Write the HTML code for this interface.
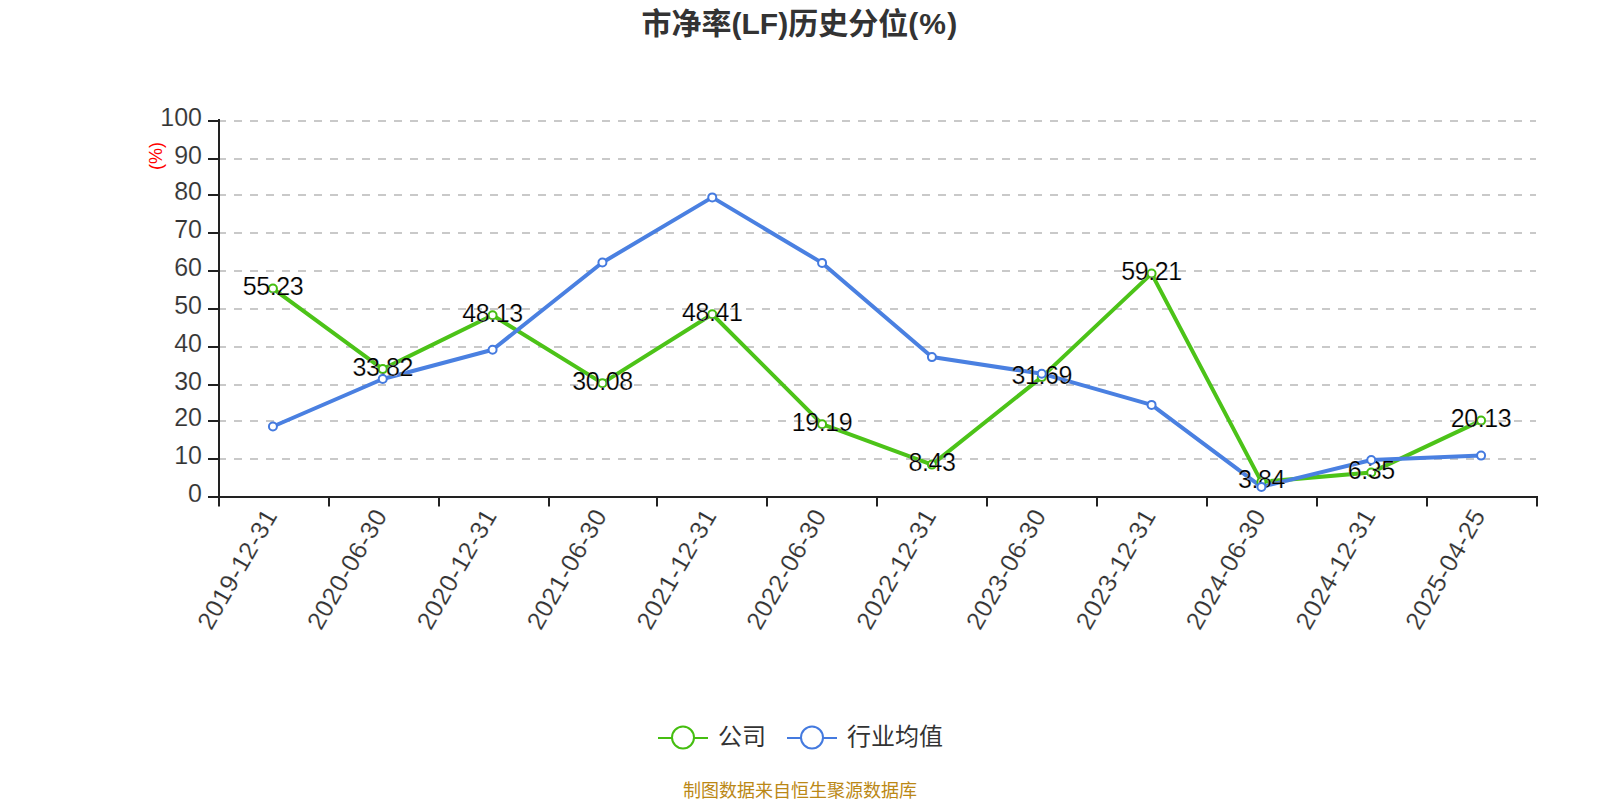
<!DOCTYPE html>
<html lang="zh-CN"><head><meta charset="utf-8"><title>市净率(LF)历史分位(%)</title>
<style>html,body{margin:0;padding:0;background:#fff;}body{width:1600px;height:800px;overflow:hidden;}svg{display:block;font-family:"Liberation Sans","Noto Sans CJK SC",sans-serif;}</style></head><body>
<svg width="1600" height="800" viewBox="0 0 1600 800">
<rect width="1600" height="800" fill="#fff"/>
<text x="641.5" y="33.5" font-size="30" font-weight="bold" fill="#333">市净率(LF)历史分位<tspan letter-spacing="1.2">(%)</tspan></text>
<g stroke="#c9c9c9" stroke-width="2" stroke-dasharray="8 8" fill="none">
<path d="M218 459 H1536"/>
<path d="M218 421 H1536"/>
<path d="M218 385 H1536"/>
<path d="M218 347 H1536"/>
<path d="M218 309 H1536"/>
<path d="M218 271 H1536"/>
<path d="M218 233 H1536"/>
<path d="M218 195 H1536"/>
<path d="M218 159 H1536"/>
<path d="M218 121 H1536"/>
</g>
<g stroke="#222" stroke-width="2" fill="none">
<path d="M219 119 V498"/>
<path d="M218 497 H1538"/>
<path d="M208 497 H219"/>
<path d="M208 459 H219"/>
<path d="M208 421 H219"/>
<path d="M208 385 H219"/>
<path d="M208 347 H219"/>
<path d="M208 309 H219"/>
<path d="M208 271 H219"/>
<path d="M208 233 H219"/>
<path d="M208 195 H219"/>
<path d="M208 159 H219"/>
<path d="M208 121 H219"/>
<path d="M219 497 V506.5"/>
<path d="M329 497 V506.5"/>
<path d="M439 497 V506.5"/>
<path d="M549 497 V506.5"/>
<path d="M657 497 V506.5"/>
<path d="M767 497 V506.5"/>
<path d="M877 497 V506.5"/>
<path d="M987 497 V506.5"/>
<path d="M1097 497 V506.5"/>
<path d="M1207 497 V506.5"/>
<path d="M1317 497 V506.5"/>
<path d="M1427 497 V506.5"/>
<path d="M1537 497 V506.5"/>
</g>
<g font-size="25" fill="#333" text-anchor="end" stroke="#fff" stroke-width="0.15">
<text x="202" y="502">0</text>
<text x="202" y="464">10</text>
<text x="202" y="426">20</text>
<text x="202" y="390">30</text>
<text x="202" y="352">40</text>
<text x="202" y="314">50</text>
<text x="202" y="276">60</text>
<text x="202" y="238">70</text>
<text x="202" y="200">80</text>
<text x="202" y="164">90</text>
<text x="202" y="126">100</text>
</g>
<text transform="translate(161.5 156) rotate(-90)" text-anchor="middle" font-size="18" fill="#f00">(%)</text>
<g font-size="25" fill="#333" text-anchor="end" letter-spacing="0.6" stroke="#fff" stroke-width="0.15">
<text transform="translate(271.22 511.3) rotate(-60)" y="8">2019-12-31</text>
<text transform="translate(381.05 511.3) rotate(-60)" y="8">2020-06-30</text>
<text transform="translate(490.88 511.3) rotate(-60)" y="8">2020-12-31</text>
<text transform="translate(600.72 511.3) rotate(-60)" y="8">2021-06-30</text>
<text transform="translate(710.55 511.3) rotate(-60)" y="8">2021-12-31</text>
<text transform="translate(820.38 511.3) rotate(-60)" y="8">2022-06-30</text>
<text transform="translate(930.22 511.3) rotate(-60)" y="8">2022-12-31</text>
<text transform="translate(1040.05 511.3) rotate(-60)" y="8">2023-06-30</text>
<text transform="translate(1149.88 511.3) rotate(-60)" y="8">2023-12-31</text>
<text transform="translate(1259.72 511.3) rotate(-60)" y="8">2024-06-30</text>
<text transform="translate(1369.55 511.3) rotate(-60)" y="8">2024-12-31</text>
<text transform="translate(1479.38 511.3) rotate(-60)" y="8">2025-04-25</text>
</g>
<polyline points="272.92,288.58 382.75,369.10 492.58,315.28 602.42,383.17 712.25,314.23 822.08,424.13 931.92,464.59 1041.75,377.11 1151.58,273.61 1261.42,481.86 1371.25,472.42 1481.08,420.59" fill="none" stroke="#4CC318" stroke-width="4" stroke-linejoin="bevel"/>
<polyline points="272.92,426.50 382.75,379.00 492.58,349.70 602.42,262.50 712.25,197.40 822.08,262.90 931.92,357.10 1041.75,373.70 1151.58,404.90 1261.42,486.90 1371.25,460.00 1481.08,455.60" fill="none" stroke="#4A80E1" stroke-width="4" stroke-linejoin="bevel"/>
<g font-size="25" fill="#000" text-anchor="middle" letter-spacing="-0.4" stroke-width="0.2">
<circle cx="272.92" cy="288.58" r="4" fill="#fff" stroke="#45BE10" stroke-width="2"/>
<text x="272.92" y="295.18" stroke="#fff">55.23</text>
<circle cx="382.75" cy="369.10" r="4" fill="#fff" stroke="#45BE10" stroke-width="2"/>
<text x="382.75" y="375.70" stroke="#fff">33.82</text>
<circle cx="492.58" cy="315.28" r="4" fill="#fff" stroke="#45BE10" stroke-width="2"/>
<text x="492.58" y="321.88" stroke="#fff">48.13</text>
<circle cx="602.42" cy="383.17" r="4" fill="#fff" stroke="#45BE10" stroke-width="2"/>
<text x="602.42" y="389.77" stroke="#fff">30.08</text>
<circle cx="712.25" cy="314.23" r="4" fill="#fff" stroke="#45BE10" stroke-width="2"/>
<text x="712.25" y="320.83" stroke="#fff">48.41</text>
<circle cx="822.08" cy="424.13" r="4" fill="#fff" stroke="#45BE10" stroke-width="2"/>
<text x="822.08" y="430.73" stroke="#fff">19.19</text>
<circle cx="931.92" cy="464.59" r="4" fill="#fff" stroke="#45BE10" stroke-width="2"/>
<text x="931.92" y="471.19" stroke="#fff">8.43</text>
<circle cx="1041.75" cy="377.11" r="4" fill="#fff" stroke="#45BE10" stroke-width="2"/>
<text x="1041.75" y="383.71" stroke="#fff">31.69</text>
<circle cx="1151.58" cy="273.61" r="4" fill="#fff" stroke="#45BE10" stroke-width="2"/>
<text x="1151.58" y="280.21" stroke="#fff">59.21</text>
<circle cx="1261.42" cy="481.86" r="4" fill="#fff" stroke="#45BE10" stroke-width="2"/>
<text x="1261.42" y="488.46" stroke="#fff">3.84</text>
<circle cx="1371.25" cy="472.42" r="4" fill="#fff" stroke="#45BE10" stroke-width="2"/>
<text x="1371.25" y="479.02" stroke="#fff">6.35</text>
<circle cx="1481.08" cy="420.59" r="4" fill="#fff" stroke="#45BE10" stroke-width="2"/>
<text x="1481.08" y="427.19" stroke="#fff">20.13</text>
</g>
<circle cx="272.92" cy="426.50" r="4" fill="#fff" stroke="#447ADF" stroke-width="2"/>
<circle cx="382.75" cy="379.00" r="4" fill="#fff" stroke="#447ADF" stroke-width="2"/>
<circle cx="492.58" cy="349.70" r="4" fill="#fff" stroke="#447ADF" stroke-width="2"/>
<circle cx="602.42" cy="262.50" r="4" fill="#fff" stroke="#447ADF" stroke-width="2"/>
<circle cx="712.25" cy="197.40" r="4" fill="#fff" stroke="#447ADF" stroke-width="2"/>
<circle cx="822.08" cy="262.90" r="4" fill="#fff" stroke="#447ADF" stroke-width="2"/>
<circle cx="931.92" cy="357.10" r="4" fill="#fff" stroke="#447ADF" stroke-width="2"/>
<circle cx="1041.75" cy="373.70" r="4" fill="#fff" stroke="#447ADF" stroke-width="2"/>
<circle cx="1151.58" cy="404.90" r="4" fill="#fff" stroke="#447ADF" stroke-width="2"/>
<circle cx="1261.42" cy="486.90" r="4" fill="#fff" stroke="#447ADF" stroke-width="2"/>
<circle cx="1371.25" cy="460.00" r="4" fill="#fff" stroke="#447ADF" stroke-width="2"/>
<circle cx="1481.08" cy="455.60" r="4" fill="#fff" stroke="#447ADF" stroke-width="2"/>
<path d="M658 738 H708" stroke="#45BE10" stroke-width="2"/>
<circle cx="683" cy="737.5" r="11" fill="#fff" stroke="#45BE10" stroke-width="2"/>
<text x="718" y="745" font-size="24" fill="#333">公司</text>
<path d="M787 738 H837" stroke="#447ADF" stroke-width="2"/>
<circle cx="812" cy="737.5" r="11" fill="#fff" stroke="#447ADF" stroke-width="2"/>
<text x="847" y="745" font-size="24" fill="#333">行业均值</text>
<text x="800" y="797" text-anchor="middle" font-size="18" fill="#BB8816">制图数据来自恒生聚源数据库</text>
</svg></body></html>
